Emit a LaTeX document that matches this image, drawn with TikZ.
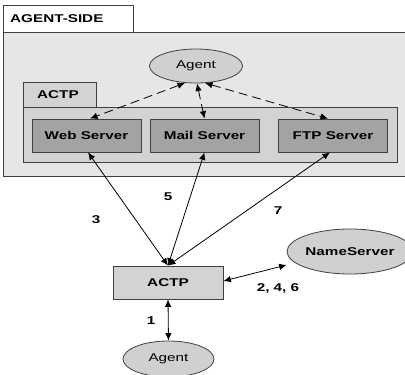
\documentclass[tikz,border=0pt]{standalone}
\usepackage{fontspec}
\setmainfont{Liberation Sans}
\newfontfamily\widefont[FakeStretch=1.35]{Liberation Sans}
\usetikzlibrary{arrows.meta,shapes.geometric}
\definecolor{outerfill}{HTML}{E6E6E6}
\definecolor{innerfill}{HTML}{D3D3D3}
\definecolor{serverfill}{HTML}{A3A3A3}
\definecolor{nodefill}{HTML}{D0D0D0}
\tikzset{
  x=1pt, y=-1pt,
  bfont/.style={font=\widefont\fontsize{11.3}{13}\selectfont\bfseries},
  lbl/.style={bfont, inner sep=0pt},
  panel/.style={draw=black!75, line width=0.8pt},
  server/.style={panel, fill=serverfill, inner sep=0pt, minimum width=109pt, minimum height=33pt, bfont},
  agentnode/.style={ellipse, draw=black!75, line width=0.8pt, fill=nodefill, inner sep=0pt,
    font=\widefont\fontsize{11.3}{13}\selectfont},
  link/.style={line width=0.8pt, {Latex[length=7.5pt,width=6.5pt]}-{Latex[length=7.5pt,width=6.5pt]}},
  dlink/.style={link, dash pattern=on 9pt off 5pt},
}
\begin{document}
\begin{tikzpicture}
\useasboundingbox (0,0) rectangle (405,375);
\fill[white] (0,0) rectangle (405,375);

% agent-side panel with its tab
\draw[panel, fill=outerfill] (3,32) rectangle (407,176);
\draw[panel, fill=white] (3,5) rectangle (133,32);
\node[lbl, anchor=west] (sidetitle) at (10,19) {AGENT-SIDE};

% ACTP panel with its tab
\draw[panel, fill=innerfill] (23,82) rectangle (96,107);
\draw[panel, fill=innerfill] (23,107) rectangle (397,162);
\node[lbl, anchor=west] (actptitle) at (37,95) {ACTP};

% servers
\node[server] (web) at (86.5,135.5) {Web Server};
\node[server] (mail) at (204.5,135.5) {Mail Server};
\node[server] (ftp) at (333,135.5) {FTP Server};

% agent on the agent side
\node[agentnode, minimum width=93pt, minimum height=34pt] (agent) at (196,66) {Agent};

\coordinate (aw) at (185,83);
\coordinate (am) at (197,83.5);
\coordinate (af) at (205,83);
\draw[dlink] (aw) -- (web.north -| 90,0);
\draw[dlink] (am) -- (mail.north);
\draw[dlink] (af) -- (ftp.north -| 328,0);

% client side
\node[draw=black!75, line width=0.8pt, fill=innerfill, minimum width=110pt, minimum height=33pt,
  inner sep=0pt, bfont] (actp) at (168,282.5) {ACTP};
\node[agentnode, minimum width=113pt, minimum height=45pt, bfont] (ns) at (350,251.5) {NameServer};
\node[agentnode, minimum width=91pt, minimum height=36pt] (agent2) at (168.5,359) {Agent};

\draw[link] (actp.north) -- (web.south -| 88,0);
\draw[link] (actp.north) -- (mail.south);
\draw[link] (actp.north) -- (ftp.south -| 330,0);
\draw[link] (actp.east |- 0,281) -- (ns.west |- 0,265) ;
\draw[link] (actp.south) -- (agent2.north);

% message numbers
\node[lbl] (n3) at (96,220) {3};
\node[lbl] (n5) at (168,197) {5};
\node[lbl] (n7) at (278,211) {7};
\node[lbl] (n246) at (278,288) {2, 4, 6};
\node[lbl] (n1) at (151,321) {1};
\end{tikzpicture}
\end{document}
